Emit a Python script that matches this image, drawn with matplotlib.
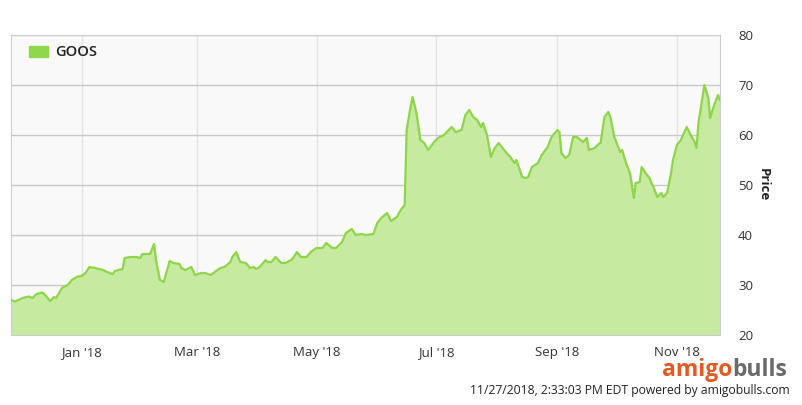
import pandas as pd
import matplotlib.pyplot as plt
import matplotlib.dates as mdates
from matplotlib.patches import Rectangle

plt.rcParams['font.family'] = ['Open Sans', 'DejaVu Sans']

#GOOS daily price

dates = [
    "2017-11-26", "2017-11-28", "2017-12-02", "2017-12-05", "2017-12-07", "2017-12-09", "2017-12-12", "2017-12-13",
    "2017-12-16", "2017-12-18", "2017-12-19", "2017-12-22", "2017-12-25", "2017-12-27", "2017-12-30",
    "2018-01-01", "2018-01-03", "2018-01-05", "2018-01-08", "2018-01-12", "2018-01-14", "2018-01-17", "2018-01-18",
    "2018-01-22", "2018-01-23", "2018-01-26", "2018-01-29", "2018-01-31",
    "2018-02-01", "2018-02-05", "2018-02-07", "2018-02-08", "2018-02-10", "2018-02-12", "2018-02-15", "2018-02-17",
    "2018-02-20", "2018-02-21", "2018-02-23", "2018-02-26", "2018-02-28",
    "2018-03-03", "2018-03-05", "2018-03-08", "2018-03-10", "2018-03-13", "2018-03-15", "2018-03-18", "2018-03-19",
    "2018-03-21", "2018-03-23", "2018-03-26", "2018-03-28", "2018-03-30", "2018-03-31",
    "2018-04-02", "2018-04-05", "2018-04-06", "2018-04-08", "2018-04-10", "2018-04-13", "2018-04-15", "2018-04-18",
    "2018-04-19", "2018-04-21", "2018-04-23", "2018-04-26", "2018-04-28",
    "2018-05-01", "2018-05-04", "2018-05-06", "2018-05-09", "2018-05-11", "2018-05-14", "2018-05-16", "2018-05-19",
    "2018-05-21", "2018-05-24", "2018-05-26", "2018-05-30",
    "2018-06-01", "2018-06-03", "2018-06-06", "2018-06-08", "2018-06-11", "2018-06-13", "2018-06-15", "2018-06-16",
    "2018-06-18", "2018-06-19", "2018-06-21", "2018-06-23", "2018-06-25", "2018-06-27", "2018-06-30",
    "2018-07-02", "2018-07-05", "2018-07-06", "2018-07-09", "2018-07-11", "2018-07-14", "2018-07-16", "2018-07-18",
    "2018-07-20", "2018-07-22", "2018-07-24", "2018-07-25", "2018-07-27", "2018-07-29", "2018-07-31",
    "2018-08-02", "2018-08-04", "2018-08-06", "2018-08-08", "2018-08-10", "2018-08-11", "2018-08-14", "2018-08-16",
    "2018-08-17", "2018-08-19", "2018-08-22", "2018-08-24", "2018-08-27", "2018-08-29",
    "2018-09-01", "2018-09-02", "2018-09-03", "2018-09-05", "2018-09-07", "2018-09-09", "2018-09-11", "2018-09-14",
    "2018-09-16", "2018-09-17", "2018-09-20", "2018-09-22", "2018-09-23", "2018-09-25", "2018-09-27", "2018-09-28",
    "2018-09-30",
    "2018-10-01", "2018-10-03", "2018-10-04", "2018-10-06", "2018-10-08", "2018-10-10", "2018-10-11", "2018-10-13",
    "2018-10-14", "2018-10-16", "2018-10-18", "2018-10-19", "2018-10-20", "2018-10-22", "2018-10-24", "2018-10-25",
    "2018-10-27", "2018-10-29", "2018-10-30",
    "2018-11-01", "2018-11-03", "2018-11-06", "2018-11-08", "2018-11-10", "2018-11-11", "2018-11-12", "2018-11-15",
    "2018-11-17", "2018-11-18", "2018-11-20", "2018-11-22", "2018-11-23",
]

prices = [
    27.0, 26.7, 27.4, 27.7, 27.4, 28.2, 28.5, 28.2,
    26.8, 27.6, 27.4, 29.4, 30.0, 31.0, 31.7,
    31.8, 32.4, 33.6, 33.4, 33.0, 32.6, 32.2, 32.8,
    33.2, 35.4, 35.6, 35.6, 35.4,
    36.2, 36.2, 38.2, 35.0, 31.0, 30.6, 34.8, 34.4,
    34.2, 33.4, 33.0, 33.6, 32.0,
    32.4, 32.4, 32.0, 32.6, 33.4, 33.6, 34.6, 35.6,
    36.6, 34.6, 34.4, 33.4, 33.6, 33.2,
    33.6, 35.0, 34.6, 34.6, 35.6, 34.4, 34.4, 35.0,
    35.4, 36.6, 35.6, 35.6, 36.6,
    37.4, 37.4, 38.4, 37.4, 37.4, 38.6, 40.4, 41.2,
    40.0, 40.2, 40.0, 40.2,
    42.4, 43.4, 44.4, 42.8, 43.6, 45.0, 46.0, 61.0,
    65.6, 67.6, 64.4, 59.0, 58.4, 57.0, 58.6,
    59.4, 60.0, 60.4, 61.6, 60.6, 61.0, 64.0, 65.0,
    63.6, 63.0, 61.6, 62.4, 60.0, 55.6, 57.4,
    58.4, 57.4, 56.4, 55.6, 54.4, 55.0, 51.6, 51.4,
    51.6, 53.6, 54.4, 56.0, 57.6, 59.6,
    61.0, 60.6, 56.4, 55.4, 56.0, 59.6, 59.6, 58.6,
    59.4, 57.0, 57.4, 58.2, 58.4, 63.6, 64.6, 63.6,
    59.6,
    58.6, 56.6, 57.0, 54.4, 52.4, 47.4, 50.4, 50.6,
    53.6, 52.4, 51.4, 50.4, 49.6, 47.6, 48.4, 47.6,
    48.4, 52.4, 55.0,
    58.0, 59.0, 61.6, 60.0, 58.6, 57.4, 62.4, 70.0,
    67.4, 63.4, 66.0, 68.0, 67.0,
]

tick_dates = ["2018-01-01", "2018-03-01", "2018-05-01", "2018-07-01", "2018-09-01", "2018-11-01"]
tick_labels = ["Jan '18", "Mar '18", "May '18", "Jul '18", "Sep '18", "Nov '18"]
y_ticks = [20, 30, 40, 50, 60, 70, 80]

df = pd.DataFrame({"Date": pd.to_datetime(dates), "Price": prices})

fig = plt.figure(figsize=(8.03, 4.05), dpi=100)
ax = fig.add_axes([11/803, 70/405, 709/803, 300/405])
ax.set_facecolor("#f9f9f9")

ax.fill_between(df["Date"], 20, df["Price"], color="#c6eaa0", zorder=2)
ax.plot(df["Date"], df["Price"], color="#8ed54c", lw=1.6, zorder=3)

ax.set_xlim(df["Date"].iloc[0], df["Date"].iloc[-1])
ax.set_ylim(20, 80)
ax.set_xticks(pd.to_datetime(tick_dates))
ax.set_xticklabels(tick_labels)
ax.set_yticks(y_ticks)

ax.yaxis.tick_right()
ax.yaxis.set_label_position("right")
ax.set_ylabel("Price", rotation=270, labelpad=12, fontsize=9.5, fontweight="bold", color="#222222")

ax.grid(axis="y", color="#c8c8c8", lw=1, zorder=1)
ax.grid(axis="x", color="#e4e4e4", lw=1, zorder=1)
ax.set_axisbelow(True)
ax.tick_params(length=0, labelsize=9.5, colors="#333333")
ax.tick_params(axis="x", pad=8)
ax.tick_params(axis="y", pad=13)
for s in ax.spines.values():
    s.set_color("#cccccc")

#legend
fig.patches.append(Rectangle((29/803, 1-57/405), 19/803, 11/405, transform=fig.transFigure, color="#8fd84c"))
fig.text(55/803, 1-52/405, "GOOS", fontsize=10.5, color="#222222", va="center", fontweight="semibold")

#logo and timestamp
fig.text(732/803, 1-376/405, "amigo", fontsize=16.5, fontweight="bold", color="#e35a24", ha="right", va="baseline")
fig.text(732/803, 1-376/405, "bulls", fontsize=16.5, fontweight="bold", color="#6a6a6a", ha="left", va="baseline")
fig.text(790/803, 1-394/405, "11/27/2018, 2:33:03 PM EDT powered by amigobulls.com", fontsize=8.7,
         color="#222222", ha="right", va="baseline")

plt.savefig("out.png", dpi=100)
